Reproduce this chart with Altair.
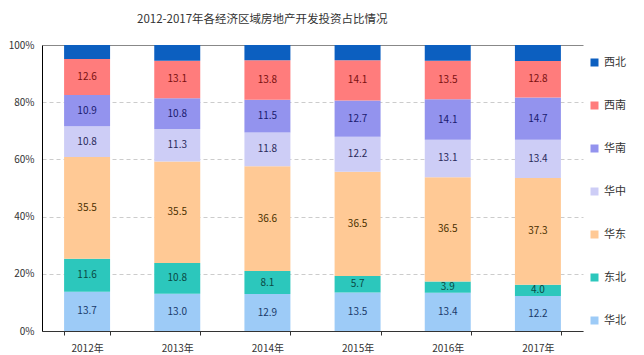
import altair as alt
import pandas as pd

years = ["2012年", "2013年", "2014年", "2015年", "2016年", "2017年"]
regions = ["华北", "东北", "华东", "华中", "华南", "西南", "西北"]  # bottom -> top
huabei = [13.7, 13.0, 12.9, 13.5, 13.4, 12.2]
dongbei = [11.6, 10.8, 8.1, 5.7, 3.9, 4.0]
huadong = [35.5, 35.5, 36.6, 36.5, 36.5, 37.3]
huazhong = [10.8, 11.3, 11.8, 12.2, 13.1, 13.4]
huanan = [10.9, 10.8, 11.5, 12.7, 14.1, 14.7]
xinan = [12.6, 13.1, 13.8, 14.1, 13.5, 12.8]
xibei = [4.9, 5.5, 5.3, 5.3, 5.5, 5.6]

series = [huabei, dongbei, huadong, huazhong, huanan, xinan, xibei]
colors = ["#9DCBF7", "#2CC7BC", "#FFC995", "#CDCDF6", "#9393EE", "#FF7C7C", "#0C5FC0"]
text_colors = ["#1a3a6a", "#0a4a44", "#4a3000", "#2a2a5a", "#1a1a6e", "#7a1010", "#ffffff"]

rows = []
for i, (r, vals) in enumerate(zip(regions, series)):
    for y, v in zip(years, vals):
        rows.append({"year": y, "region": r, "value": v, "order": i,
                     "label": f"{v:.1f}", "show": r != "西北"})
df = pd.DataFrame(rows)

FONT = "Noto Sans CJK SC"
legend_domain = regions[::-1]
legend_range = colors[::-1]

base = alt.Chart(df).transform_stack(
    stack="value", as_=["y0", "y1"], groupby=["year"], sort=[alt.SortField("order")]
).transform_calculate(mid="(datum.y0 + datum.y1) / 2")

xenc = alt.X("year:N", sort=years, title=None,
             scale=alt.Scale(paddingInner=0.49, paddingOuter=0.245),
             axis=alt.Axis(labelAngle=0, tickBand="extent", domainColor="#333333",
                           tickColor="#333333", tickSize=4, labelPadding=8,
                           labelFontSize=10, labelColor="#333333", labelFont=FONT))

bars = base.mark_bar().encode(
    x=xenc,
    y=alt.Y("y0:Q", title=None, scale=alt.Scale(domain=[0, 100], nice=False),
            axis=alt.Axis(values=[0, 20, 40, 60, 80, 100], labelExpr="datum.value + '%'",
                          domainColor="#000000", ticks=False, labelPadding=8,
                          labelFontSize=10, labelColor="#333333", labelFont=FONT,
                          gridColor={"condition": {"test": "datum.value == 100", "value": "#888888"}, "value": "#cccccc"},
                          gridDash={"condition": {"test": "datum.value == 100", "value": []}, "value": [4, 3]})),
    y2="y1:Q",
    color=alt.Color("region:N", scale=alt.Scale(domain=legend_domain, range=legend_range),
                    legend=alt.Legend(title=None, orient="none", legendX=547, legendY=12,
                                      symbolType="square", symbolSize=64, symbolStrokeWidth=0,
                                      labelFontSize=11, labelColor="#333333", labelFont=FONT,
                                      rowPadding=31)),
)

labels = base.transform_filter("datum.show").mark_text(fontSize=10, font=FONT).encode(
    x=alt.X("year:N", sort=years),
    y="mid:Q",
    text="label:N",
    color=alt.Color("region:N", scale=alt.Scale(domain=regions, range=text_colors), legend=None),
)

chart = alt.layer(bars, labels).resolve_scale(color="independent").properties(
    width=541, height=286,
    autosize=alt.AutoSizeParams(type="none"),
    padding={"left": 42, "top": 45, "right": 61, "bottom": 24},
    title=alt.TitleParams("2012-2017年各经济区域房地产开发投资占比情况", anchor="start",
                          frame="group", dx=95, offset=15, fontSize=11.5, fontWeight="normal",
                          color="#333333", font=FONT),
).configure_view(stroke=None).configure_axis(grid=True).configure_axisX(grid=False)

chart.save("out.html", embed_options={"renderer": "svg", "actions": False})
